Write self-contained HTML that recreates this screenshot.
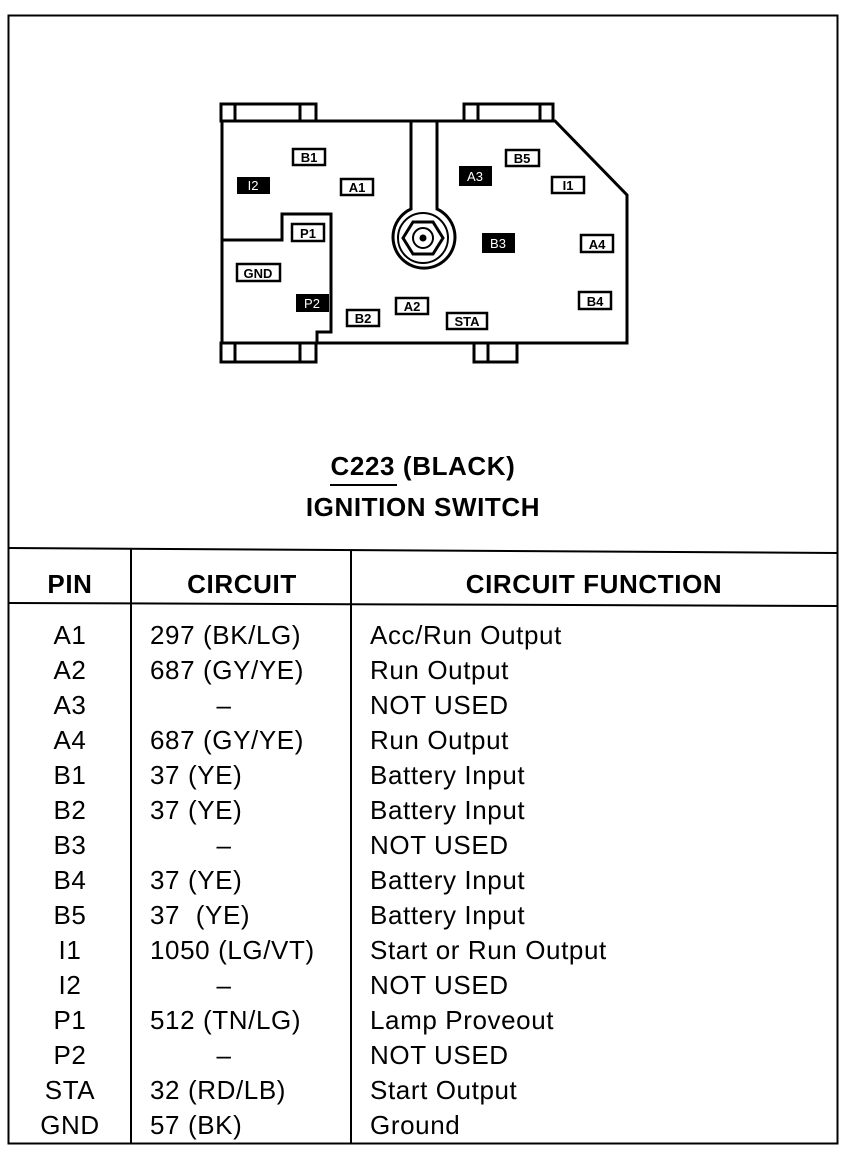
<!DOCTYPE html>
<html><head><style>
body{margin:0;background:#fff;width:846px;height:1152px;overflow:hidden;position:relative;font-family:"Liberation Sans",Arial,sans-serif;}
.t{position:absolute;font-size:26px;letter-spacing:0.6px;color:#000;white-space:nowrap;line-height:1;}
.c{transform:translateX(-50%);}
</style></head><body>
<svg width="846" height="1152" style="position:absolute;left:0;top:0" xmlns="http://www.w3.org/2000/svg">
<g fill="none" stroke="#000">
<rect x="8.5" y="15.5" width="829" height="1128" stroke-width="2"/>
<line x1="8" y1="548" x2="838" y2="553" stroke-width="2"/>
<line x1="8" y1="603" x2="838" y2="606" stroke-width="2"/>
<line x1="131" y1="548" x2="131" y2="1143" stroke-width="2"/>
<line x1="351" y1="550" x2="351" y2="1143" stroke-width="2"/>
<line x1="330" y1="485" x2="397" y2="485" stroke-width="2"/>
<path d="M222 121 L555 121 L627 195 L627 343 L317 343 L317 332 L331 332 L331 214 L282 214 L282 240 L222 240 Z" stroke-width="3"/>
<path d="M222 121 L222 343 L317 343" stroke-width="3"/>
<rect x="221" y="104" width="95" height="17" stroke-width="3"/>
<line x1="235" y1="104" x2="235" y2="121" stroke-width="3"/>
<line x1="300" y1="104" x2="300" y2="121" stroke-width="3"/>
<rect x="464" y="104" width="89" height="17" stroke-width="3"/>
<line x1="478" y1="104" x2="478" y2="121" stroke-width="3"/>
<line x1="540" y1="104" x2="540" y2="121" stroke-width="3"/>
<rect x="221" y="343" width="95" height="19" stroke-width="3"/>
<line x1="235" y1="343" x2="235" y2="362" stroke-width="3"/>
<line x1="300" y1="343" x2="300" y2="362" stroke-width="3"/>
<rect x="474" y="343" width="43" height="19" stroke-width="3"/>
<line x1="488" y1="343" x2="488" y2="362" stroke-width="3"/>
<path d="M411 121 L411 209 A31 31 0 1 0 437 209 L437 121" stroke-width="3"/>
<circle cx="423" cy="238" r="25" stroke-width="2"/>
<polygon points="403,238 413,222 433,222 443,238 433,254 413,254" stroke-width="3"/>
<circle cx="423" cy="238" r="10" stroke-width="2"/>
<circle cx="423" cy="238" r="3" fill="#000"/>
</g>
<g font-family="Liberation Sans,Arial,sans-serif" font-size="13" text-anchor="middle">
<g stroke="#000" stroke-width="2.5" fill="#fff">
<rect x="293" y="149" width="32" height="16"/>
<rect x="341" y="179" width="32" height="16"/>
<rect x="292" y="224" width="32" height="17"/>
<rect x="237" y="264" width="43" height="17"/>
<rect x="347" y="310" width="32" height="16"/>
<rect x="396" y="298" width="32" height="16"/>
<rect x="447" y="313" width="40" height="16"/>
<rect x="506" y="150" width="33" height="16"/>
<rect x="552" y="177" width="32" height="16"/>
<rect x="581" y="235" width="32" height="17"/>
<rect x="579" y="292" width="32" height="17"/>
</g>
<g fill="#000">
<rect x="237" y="177" width="33" height="17"/>
<rect x="296" y="294" width="33" height="18"/>
<rect x="459" y="166" width="33" height="20"/>
<rect x="482" y="233" width="33" height="20"/>
</g>
<g fill="#000" font-weight="bold">
<text x="309" y="162">B1</text><text x="357" y="192">A1</text><text x="308" y="238">P1</text>
<text x="258" y="278">GND</text><text x="363" y="323">B2</text><text x="412" y="311">A2</text>
<text x="467" y="326">STA</text><text x="522" y="163">B5</text><text x="568" y="190">I1</text>
<text x="597" y="249">A4</text><text x="595" y="306">B4</text>
</g>
<g fill="#fff">
<text x="253" y="190">I2</text><text x="312" y="308">P2</text>
<text x="475" y="181">A3</text><text x="498" y="248">B3</text>
</g>
</g>
</svg>
<div class="t c" style="left:423px;top:453px;font-weight:bold;">C223 (BLACK)</div>
<div class="t c" style="left:423px;top:494px;font-weight:bold;">IGNITION SWITCH</div>
<div class="t c" style="left:70px;top:571px;font-weight:bold;">PIN</div>
<div class="t c" style="left:242px;top:571px;font-weight:bold;">CIRCUIT</div>
<div class="t c" style="left:594px;top:571px;font-weight:bold;">CIRCUIT FUNCTION</div>
<div class="t c" style="left:70px;top:622px">A1</div><div class="t" style="left:150px;top:622px">297 (BK/LG)</div><div class="t" style="left:370px;top:622px">Acc/Run Output</div>
<div class="t c" style="left:70px;top:657px">A2</div><div class="t" style="left:150px;top:657px">687 (GY/YE)</div><div class="t" style="left:370px;top:657px">Run Output</div>
<div class="t c" style="left:70px;top:692px">A3</div><div class="t c" style="left:224px;top:692px">–</div><div class="t" style="left:370px;top:692px">NOT USED</div>
<div class="t c" style="left:70px;top:727px">A4</div><div class="t" style="left:150px;top:727px">687 (GY/YE)</div><div class="t" style="left:370px;top:727px">Run Output</div>
<div class="t c" style="left:70px;top:762px">B1</div><div class="t" style="left:150px;top:762px">37 (YE)</div><div class="t" style="left:370px;top:762px">Battery Input</div>
<div class="t c" style="left:70px;top:797px">B2</div><div class="t" style="left:150px;top:797px">37 (YE)</div><div class="t" style="left:370px;top:797px">Battery Input</div>
<div class="t c" style="left:70px;top:832px">B3</div><div class="t c" style="left:224px;top:832px">–</div><div class="t" style="left:370px;top:832px">NOT USED</div>
<div class="t c" style="left:70px;top:867px">B4</div><div class="t" style="left:150px;top:867px">37 (YE)</div><div class="t" style="left:370px;top:867px">Battery Input</div>
<div class="t c" style="left:70px;top:902px">B5</div><div class="t" style="left:150px;top:902px">37&nbsp; (YE)</div><div class="t" style="left:370px;top:902px">Battery Input</div>
<div class="t c" style="left:70px;top:937px">I1</div><div class="t" style="left:150px;top:937px">1050 (LG/VT)</div><div class="t" style="left:370px;top:937px">Start or Run Output</div>
<div class="t c" style="left:70px;top:972px">I2</div><div class="t c" style="left:224px;top:972px">–</div><div class="t" style="left:370px;top:972px">NOT USED</div>
<div class="t c" style="left:70px;top:1007px">P1</div><div class="t" style="left:150px;top:1007px">512 (TN/LG)</div><div class="t" style="left:370px;top:1007px">Lamp Proveout</div>
<div class="t c" style="left:70px;top:1042px">P2</div><div class="t c" style="left:224px;top:1042px">–</div><div class="t" style="left:370px;top:1042px">NOT USED</div>
<div class="t c" style="left:70px;top:1077px">STA</div><div class="t" style="left:150px;top:1077px">32 (RD/LB)</div><div class="t" style="left:370px;top:1077px">Start Output</div>
<div class="t c" style="left:70px;top:1112px">GND</div><div class="t" style="left:150px;top:1112px">57 (BK)</div><div class="t" style="left:370px;top:1112px">Ground</div>
</body></html>
